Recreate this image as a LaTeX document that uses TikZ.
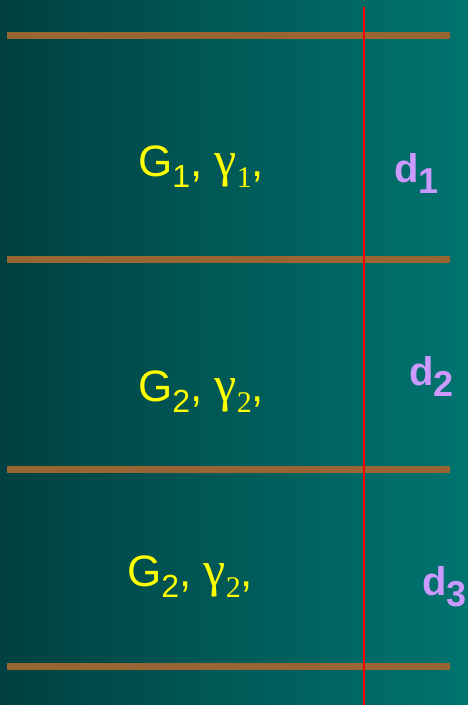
\documentclass[tikz,border=0pt]{standalone}
\usepackage{fontspec}
\setmainfont{Liberation Sans}
\newfontfamily\greekserif{Liberation Serif}
\usetikzlibrary{positioning}
\definecolor{bgdark}{RGB}{0,64,64}
\definecolor{bglight}{RGB}{0,116,112}
\definecolor{layerbrown}{RGB}{153,102,51}
\definecolor{propyellow}{RGB}{255,255,0}
\definecolor{depthpurple}{RGB}{204,153,255}
\newcommand{\lowsub}[2]{\raisebox{-11pt}{\fontsize{#1}{#1}\selectfont #2}}

\begin{document}
\begin{tikzpicture}[
    x=1pt, y=-1pt,
    layer/.style={draw=layerbrown, line width=7pt},
    prop/.style={anchor=base west, inner sep=0pt, text=propyellow,
        font=\fontsize{44}{44}\selectfont},
    depth/.style={anchor=base west, inner sep=0pt, text=depthpurple,
        font=\bfseries\fontsize{40}{40}\selectfont}
]
    \useasboundingbox (0,0) rectangle (468,705);
    \shade[left color=bgdark, right color=bglight] (0,0) rectangle (468,705);

    % layer boundaries
    \foreach \y in {35,259,469,666}
        \draw[layer] (7,\y) -- (450,\y);

    % properties of each layer
    \node[prop] (props1) at (138,176) {G\lowsub{32}{1}, {\greekserif\fontsize{50}{50}\selectfont γ\lowsub{30}{1}},};
    \node[prop] (props2) at (138,401) {G\lowsub{32}{2}, {\greekserif\fontsize{50}{50}\selectfont γ\lowsub{30}{2}},};
    \node[prop] (props3) at (127,586) {G\lowsub{32}{2}, {\greekserif\fontsize{50}{50}\selectfont γ\lowsub{30}{2}},};

    % thicknesses
    \node[depth] (d1) at (394,182) {d\lowsub{36}{1}};
    \node[depth] (d2) at (409,385) {d\lowsub{36}{2}};
    \node[depth] (d3) at (422,595) {d\lowsub{36}{3}};

    % section line
    \draw[red, line width=2pt] (364,7) -- (364,705);
\end{tikzpicture}
\end{document}
